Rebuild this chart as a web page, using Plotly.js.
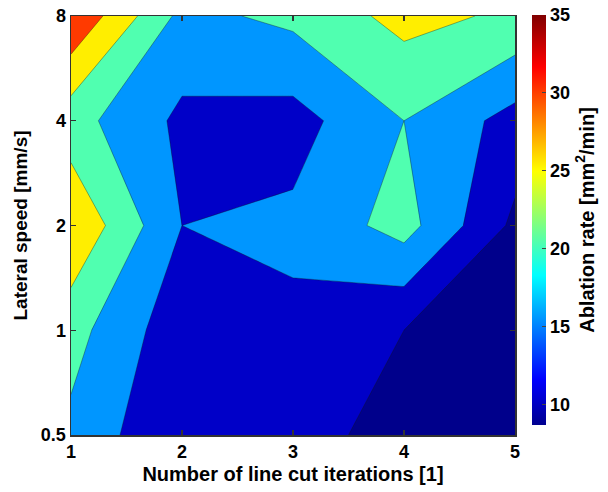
<!DOCTYPE html>
<html><head><meta charset="utf-8">
<script src="https://cdn.plot.ly/plotly-3.0.1.min.js"></script>
<style>html,body{margin:0;padding:0;background:#fff}</style>
</head><body><div id="chart" style="width:608px;height:492px"></div>
<script>
// x: number of line cut iterations, y: lateral speed [mm/s]
const iterations = [1, 2, 3, 4, 5];
const speeds = [0.5, 1, 2, 4, 8];
const speedLabels = ['0.5', '1', '2', '4', '8'];
// ablation rate [mm^2/min] per speed row, over iterations 1..5
const rate_0_5 = [18.8, 10.2, 11.0, 9.0, 8.7];
const rate_1   = [21.9, 11.7, 14.0, 10.0, 9.0];
const rate_2   = [29.5, 15.0, 16.0, 22.0, 8.9];
const rate_4   = [22.0, 13.9, 13.1, 20.0, 13.1];
const rate_8   = [34.6, 18.6, 21.2, 26.6, 24.1];
const contourLevels = [10, 15, 20, 25, 30];
const bandColors = ['#00008b', '#0000c8', '#0096ff', '#50ffb0', '#ffee00', '#ff3a00'];
const colorbarTicks = [10, 15, 20, 25, 30, 35];
const cMin = 8.7, cMax = 35;

const FONT = 'Arial, "Liberation Sans", Helvetica, sans-serif';
const ySpeed = speeds.map(Math.log2);
const zGrid = [rate_0_5, rate_1, rate_2, rate_4, rate_8];
const jet = [[0, 'rgb(0,0,143)'], [0.111, 'rgb(0,0,255)'], [0.365, 'rgb(0,255,255)'],
             [0.619, 'rgb(255,255,0)'], [0.873, 'rgb(255,0,0)'], [1, 'rgb(128,0,0)']];
const bandScale = bandColors.map((c, i) => [i / (bandColors.length - 1), c]);

const contour = {
  type: 'contour',
  x: iterations, y: ySpeed, z: zGrid,
  autocontour: false,
  contours: {start: contourLevels[0], end: contourLevels[contourLevels.length - 1],
             size: contourLevels[1] - contourLevels[0], coloring: 'fill'},
  colorscale: bandScale,
  showscale: false,
  line: {color: 'rgba(20,20,20,0.6)', width: 0.6, smoothing: 0},
  hoverinfo: 'skip'
};

const scaleHolder = {
  type: 'scatter', mode: 'markers',
  x: [iterations[0]], y: [ySpeed[0]],
  hoverinfo: 'skip', showlegend: false,
  marker: {
    size: 1, opacity: 0,
    color: [cMin], cmin: cMin, cmax: cMax, colorscale: jet, showscale: true,
    colorbar: {
      x: 1.036, xanchor: 'left', xref: 'paper', xpad: 0, ypad: 0,
      y: 0.0239, yanchor: 'bottom', len: 0.9785, lenmode: 'fraction',
      thickness: 14, thicknessmode: 'pixels',
      outlinewidth: 0,
      tickvals: colorbarTicks, ticks: 'inside', ticklen: 4, tickcolor: '#444',
      tickfont: {family: FONT, size: 18, color: '#000', weight: 'bold'},
      title: {text: 'Ablation rate [mm<sup>2</sup>/min]', side: 'right',
              font: {family: FONT, size: 20, color: '#000', weight: 'bold'}}
    }
  }
};

const axisCommon = {
  showgrid: false, zeroline: false,
  showline: true, linecolor: '#333', linewidth: 1.5, mirror: 'ticks',
  ticks: 'inside', ticklen: 5, tickcolor: '#333', tickwidth: 1.2,
  tickfont: {family: FONT, size: 18, color: '#000', weight: 'bold'}
};

const layout = {
  width: 608, height: 492,
  margin: {l: 71, r: 92, t: 16, b: 57},
  paper_bgcolor: '#fff', plot_bgcolor: '#fff',
  showlegend: false,
  xaxis: Object.assign({}, axisCommon, {
    range: [iterations[0], iterations[iterations.length - 1]],
    tickvals: iterations,
    title: {text: 'Number of line cut iterations [1]', standoff: 6,
            font: {family: FONT, size: 20, color: '#000', weight: 'bold'}}
  }),
  yaxis: Object.assign({}, axisCommon, {
    range: [ySpeed[0], ySpeed[ySpeed.length - 1]],
    tickvals: ySpeed, ticktext: speedLabels,
    title: {text: 'Lateral speed [mm/s]', standoff: 8,
            font: {family: FONT, size: 19, color: '#000', weight: 'bold'}}
  })
};

Plotly.newPlot('chart', [contour, scaleHolder], layout, {displayModeBar: false, staticPlot: true});
</script></body></html>
